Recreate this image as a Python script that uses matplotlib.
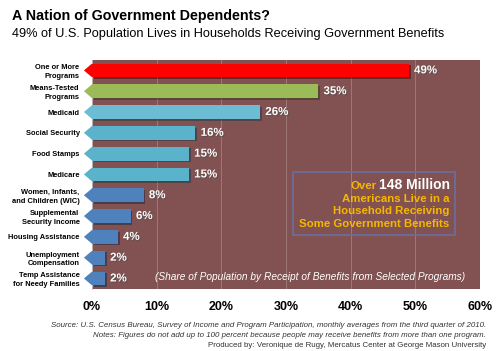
import matplotlib.pyplot as plt
import matplotlib.patheffects as pe
from matplotlib.patches import Polygon

plt.rcParams["font.family"] = ["Liberation Sans", "DejaVu Sans"]

# Data
programs = ["One or More\nPrograms", "Means-Tested\nPrograms", "Medicaid", "Social Security",
            "Food Stamps", "Medicare", "Women, Infants,\nand Children (WIC)",
            "Supplemental\nSecurity Income", "Housing Assistance", "Unemployment\nCompensation",
            "Temp Assistance\nfor Needy Families"]
shares = [49, 35, 26, 16, 15, 15, 8, 6, 4, 2, 2]
colors = ["#ff0000", "#9bbb59", "#6cbdd3", "#5ab3cb", "#5ab3cb", "#5ab3cb",
          "#4f81bd", "#4f81bd", "#4f81bd", "#4f81bd", "#4f81bd"]
xticks = [0, 10, 20, 30, 40, 50, 60]

fig = plt.figure(figsize=(5, 3.51), dpi=100)
fig.patch.set_facecolor("white")
ax = fig.add_axes([0.184, 0.177, 0.776, 0.652])
ax.set_facecolor("#825252")

y = list(range(len(programs)))
h = 0.66
shadow = [pe.SimplePatchShadow(offset=(1.2, -1.2), alpha=0.5), pe.Normal()]
ax.barh(y, shares, height=h, color=colors, zorder=3, path_effects=shadow)

# arrow tips poking out to the left of the axis
tip = 1.25
for yi, c in zip(y, colors):
    tri = Polygon([(0, yi - h / 2), (0, yi + h / 2), (-tip, yi)], closed=True,
                  facecolor=c, edgecolor="none", clip_on=False, zorder=3)
    ax.add_patch(tri)

txt_shadow = [pe.withSimplePatchShadow(offset=(0.8, -0.8), alpha=0.6)]
for yi, v in zip(y, shares):
    ax.text(v + 0.8, yi, f"{v}%", color="white", fontsize=8.3, fontweight="bold",
            va="center", ha="left", zorder=4, path_effects=txt_shadow)

ax.set_xlim(0, 60)
ax.set_ylim(len(programs) - 0.5, -0.5)
ax.set_xticks(xticks)
ax.set_xticklabels([f"{t}%" for t in xticks], fontsize=9, fontweight="bold")
ax.set_yticks(y)
ax.set_yticklabels(programs, fontsize=5.4, fontweight="bold", linespacing=1.3)
ax.tick_params(axis="y", length=0, pad=9)
ax.tick_params(axis="x", length=0, pad=9)
ax.grid(axis="x", color="#a07878", lw=0.7, zorder=1)
for s in ax.spines.values():
    s.set_visible(False)
ax.spines["left"].set_visible(True)
ax.spines["left"].set_color("#bbbbbb")
ax.spines["left"].set_linewidth(0.6)

# callout box
xr = 55.3
ax.text(xr, 5.92, "Americans Live in a\nHousehold Receiving\nSome Government Benefits",
        color="#f5b800", fontsize=8.2, fontweight="bold", ha="right", va="top",
        linespacing=1.35, zorder=5)
t = ax.text(xr, 5.72, "148 Million", color="white", fontsize=10, fontweight="bold",
            ha="right", va="baseline", zorder=5)
fig.canvas.draw()
bb = t.get_window_extent()
x0 = ax.transData.inverted().transform((bb.x0, bb.y0))[0]
ax.text(x0 - 0.3, 5.72, "Over", color="#f5b800", fontsize=8.2, fontweight="bold",
        ha="right", va="baseline", zorder=5)
box = plt.Rectangle((31.1, 4.88), 25.0, 3.02, fill=False, edgecolor="#6a6e9e", lw=1.2, zorder=4)
ax.add_patch(box)

ax.text(57.7, 9.95, "(Share of Population by Receipt of Benefits from Selected Programs)",
        color="white", fontsize=7.3, style="italic", ha="right", va="center", zorder=5)

fig.text(0.024, 0.955, "A Nation of Government Dependents?", fontsize=10.3, fontweight="bold",
         ha="left", va="center")
fig.text(0.024, 0.903, "49% of U.S. Population Lives in Households Receiving Government Benefits",
         fontsize=9.2, ha="left", va="center")

fig.text(0.972, 0.072, "Source: U.S. Census Bureau, Survey of Income and Program Participation, monthly averages from the third quarter of 2010.",
         fontsize=5.7, style="italic", ha="right", va="center", color="#333333")
fig.text(0.972, 0.044, "Notes: Figures do not add up to 100 percent because people may receive benefits from more than one program.",
         fontsize=5.7, style="italic", ha="right", va="center", color="#333333")
fig.text(0.972, 0.016, "Produced by: Veronique de Rugy, Mercatus Center at George Mason University",
         fontsize=5.7, ha="right", va="center", color="#333333")

fig.savefig("out.png", dpi=100)
